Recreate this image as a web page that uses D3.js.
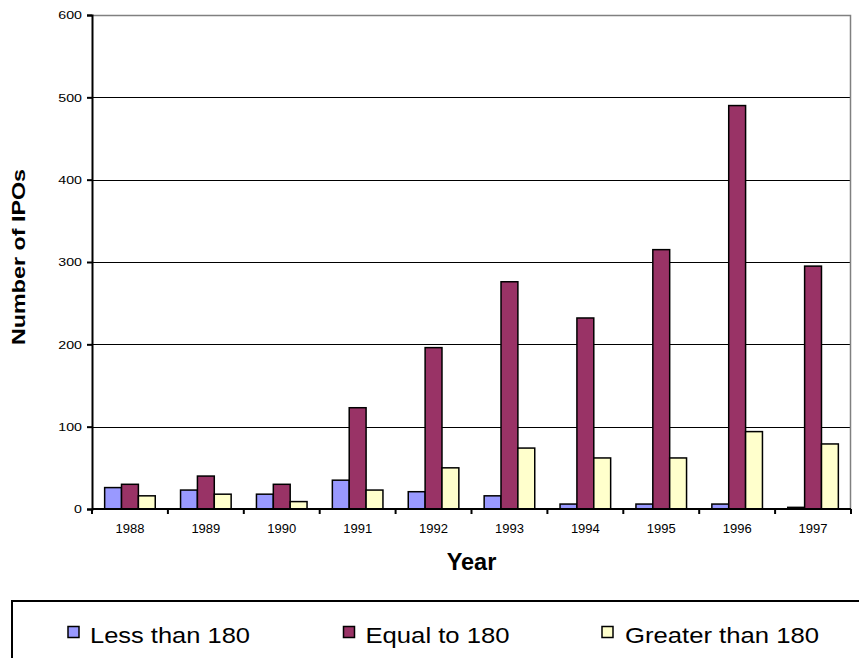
<!DOCTYPE html>
<html>
<head>
<meta charset="utf-8">
<script src="https://cdn.jsdelivr.net/npm/d3@7"></script>
<style>
  html, body { margin: 0; padding: 0; background: #ffffff; }
  svg { display: block; font-family: Arial, "Liberation Sans", Helvetica, sans-serif; }
</style>
</head>
<body>
<svg id="chart" width="859" height="658"></svg>
<script>
// IPO counts by year, split by lock-up period length (days)
const years = ["1988", "1989", "1990", "1991", "1992", "1993", "1994", "1995", "1996", "1997"];
const lessThan180 = [26, 23, 18, 35, 21, 16, 6, 6, 6, 2];
const equalTo180 = [30, 40, 30, 123, 196, 276, 232, 315, 490, 295];
const greaterThan180 = [16, 18, 9, 23, 50, 74, 62, 62, 94, 79];
const seriesNames = ["Less than 180", "Equal to 180", "Greater than 180"];
const seriesColors = ["#9999FF", "#993366", "#FFFFCC"];
const yTicks = [0, 100, 200, 300, 400, 500, 600];

const seriesValues = [lessThan180, equalTo180, greaterThan180];

const svg = d3.select("#chart");
const plot = { left: 92, right: 851, top: 15, bottom: 509 };

const x = d3.scaleBand().domain(years).range([plot.left, plot.right]).paddingInner(0).paddingOuter(0);
const y = d3.scaleLinear().domain([0, 600]).range([plot.bottom, plot.top]);

// bars inside each year: gap width 150% of a bar
const barW = x.bandwidth() / 4.5;
const groupOffset = (x.bandwidth() - 3 * barW) / 2;

// horizontal gridlines
svg.append("g")
  .selectAll("line")
  .data(yTicks.filter(t => t > 0 && t < 600))
  .join("line")
  .attr("x1", plot.left).attr("x2", plot.right)
  .attr("y1", d => Math.round(y(d)) + 0.5).attr("y2", d => Math.round(y(d)) + 0.5)
  .attr("stroke", "#000").attr("stroke-width", 1);

// plot frame top and right (grey)
svg.append("path")
  .attr("d", `M${plot.left},${plot.top + 0.5} H${plot.right - 0.5} V${plot.bottom}`)
  .attr("fill", "none").attr("stroke", "#808080").attr("stroke-width", 1.5);

// bars
const rows = years.map((yr, i) => ({ year: yr, vals: seriesValues.map(s => s[i]) }));
const groups = svg.append("g").selectAll("g")
  .data(rows)
  .join("g")
  .attr("transform", d => `translate(${x(d.year) + groupOffset},0)`);

groups.selectAll("rect")
  .data(d => d.vals.map((v, k) => ({ v, k })))
  .join("rect")
  .attr("x", d => d.k * barW)
  .attr("y", d => y(d.v))
  .attr("width", barW)
  .attr("height", d => y(0) - y(d.v))
  .attr("fill", d => seriesColors[d.k])
  .attr("stroke", "#000")
  .attr("stroke-width", 1.5);

// y axis
const yAxis = svg.append("g")
  .attr("transform", `translate(${plot.left},0)`)
  .call(d3.axisLeft(y).tickValues(yTicks).tickSize(5).tickPadding(5).tickFormat(d3.format("d")));
yAxis.select(".domain").attr("stroke", "#000").attr("stroke-width", 2);
yAxis.selectAll(".tick line").attr("stroke", "#000").attr("stroke-width", 2);
yAxis.selectAll(".tick text")
  .attr("font-size", 10.5)
  .attr("font-family", "Arial, 'Liberation Sans', sans-serif")
  .attr("fill", "#000")
  .attr("dy", "0.36em")
  .attr("textLength", d => String(d).length * 7.9)
  .attr("lengthAdjust", "spacingAndGlyphs");

// x axis: ticks at category boundaries, labels at centres
const xAxisG = svg.append("g");
xAxisG.append("line")
  .attr("x1", plot.left).attr("x2", plot.right)
  .attr("y1", plot.bottom).attr("y2", plot.bottom)
  .attr("stroke", "#000").attr("stroke-width", 2);
const boundaries = years.map(yr => x(yr)).concat([x(years[years.length - 1]) + x.bandwidth()]);
xAxisG.selectAll("line.tk")
  .data(boundaries)
  .join("line")
  .attr("class", "tk")
  .attr("x1", d => d).attr("x2", d => d)
  .attr("y1", plot.bottom).attr("y2", plot.bottom + 5)
  .attr("stroke", "#000").attr("stroke-width", 2);
xAxisG.selectAll("text")
  .data(years)
  .join("text")
  .attr("x", d => x(d) + x.bandwidth() / 2)
  .attr("y", 533)
  .attr("text-anchor", "middle")
  .attr("font-size", 13)
  .attr("fill", "#000")
  .text(d => d);

// axis titles
svg.append("text")
  .attr("x", 471.5).attr("y", 570)
  .attr("text-anchor", "middle")
  .attr("font-size", 23.5)
  .attr("font-weight", "bold")
  .attr("fill", "#000")
  .text("Year");

svg.append("text")
  .attr("transform", "translate(25,257) rotate(-90)")
  .attr("text-anchor", "middle")
  .attr("font-size", 18)
  .attr("font-weight", "bold")
  .attr("fill", "#000")
  .attr("textLength", 176)
  .attr("lengthAdjust", "spacingAndGlyphs")
  .text("Number of IPOs");

// legend
const legend = svg.append("g");
legend.append("rect")
  .attr("x", 12).attr("y", 601)
  .attr("width", 870).attr("height", 80)
  .attr("fill", "#fff").attr("stroke", "#000").attr("stroke-width", 2);

const legendItems = [
  { swatch: 68, text: 90, len: 160 },
  { swatch: 343.5, text: 365.5, len: 144 },
  { swatch: 602, text: 625, len: 194 }
];
const li = legend.selectAll("g.item")
  .data(seriesNames.map((n, i) => ({ name: n, color: seriesColors[i], pos: legendItems[i] })))
  .join("g").attr("class", "item");
li.append("rect")
  .attr("x", d => d.pos.swatch).attr("y", 626.5)
  .attr("width", 11).attr("height", 11)
  .attr("fill", d => d.color).attr("stroke", "#000").attr("stroke-width", 1.5);
li.append("text")
  .attr("x", d => d.pos.text).attr("y", 642.5)
  .attr("font-size", 22.5)
  .attr("fill", "#000")
  .attr("textLength", d => d.pos.len)
  .attr("lengthAdjust", "spacingAndGlyphs")
  .text(d => d.name);
</script>
</body>
</html>
